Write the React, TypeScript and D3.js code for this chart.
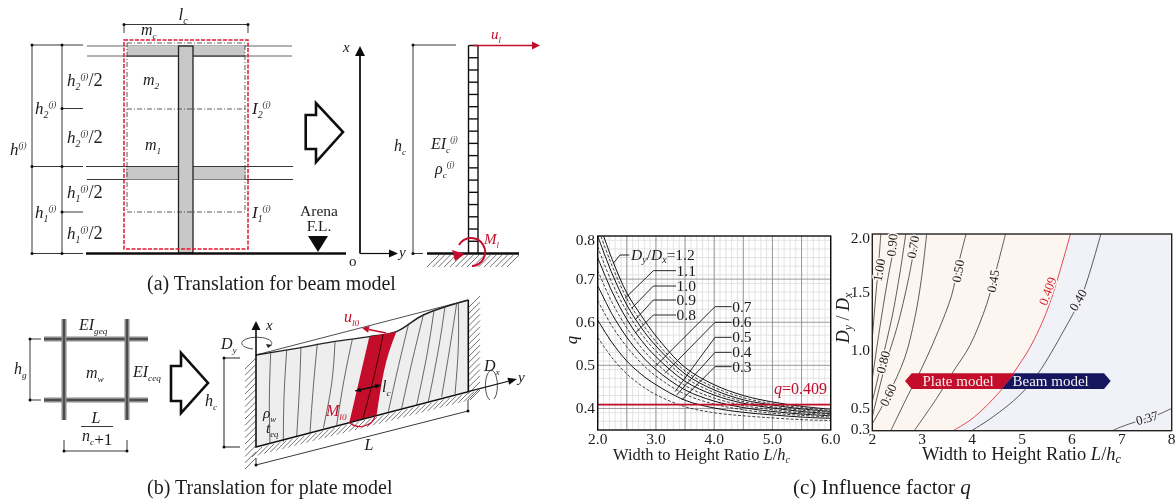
import React from "react";
import * as d3 from "d3";

type Pt = [number, number];

const SERIF = "'Liberation Serif', 'Times New Roman', serif";
const RED = "#c30d29";
const NAVY = "#14195f";
const INK = "#1c1c1c";

// ---- chart (c) left : q against L/hc
const ratioTicks = [2, 2.25, 2.5, 2.75, 3, 3.5, 4, 4.5, 5, 5.5, 6];
const stiffnessLabels = ["1.2", "1.1", "1.0", "0.9", "0.8", "0.7", "0.6", "0.5", "0.4", "0.3"];
const q12 = [0.84, 0.745, 0.668, 0.615, 0.568, 0.495, 0.455, 0.43, 0.415, 0.405, 0.398];
const q11 = [0.82, 0.73, 0.655, 0.6, 0.555, 0.487, 0.449, 0.425, 0.411, 0.402, 0.395];
const q10 = [0.8, 0.712, 0.64, 0.587, 0.545, 0.48, 0.443, 0.42, 0.408, 0.399, 0.393];
const q09 = [0.775, 0.69, 0.625, 0.573, 0.533, 0.472, 0.437, 0.416, 0.404, 0.396, 0.391];
const q08 = [0.75, 0.67, 0.607, 0.558, 0.52, 0.463, 0.431, 0.412, 0.401, 0.393, 0.388];
const q07 = [0.72, 0.645, 0.587, 0.541, 0.505, 0.453, 0.424, 0.407, 0.397, 0.39, 0.386];
const q06 = [0.685, 0.618, 0.565, 0.523, 0.49, 0.443, 0.417, 0.402, 0.393, 0.387, 0.383];
const q05 = [0.65, 0.59, 0.543, 0.505, 0.475, 0.433, 0.41, 0.397, 0.389, 0.384, 0.38];
const q04 = [0.605, 0.552, 0.51, 0.479, 0.455, 0.419, 0.401, 0.391, 0.385, 0.38, 0.377];
const q03 = [0.565, 0.517, 0.48, 0.453, 0.432, 0.404, 0.39, 0.383, 0.378, 0.374, 0.372];
const qSeries = [q12, q11, q10, q09, q08, q07, q06, q05, q04, q03];
const qLimit = 0.409;

const leaders: Pt[][] = [
  [[160, 115], [180, 90], [208, 90]],
  [[195, 220], [280, 137], [348, 137]],
  [[215, 250], [280, 183], [348, 183]],
  [[225, 285], [280, 225], [348, 225]],
  [[225, 325], [280, 270], [348, 270]],
  [[285, 425], [465, 245], [515, 245]],
  [[315, 445], [465, 292], [515, 292]],
  [[345, 500], [465, 337], [515, 337]],
  [[350, 510], [465, 382], [515, 382]],
  [[365, 525], [465, 425], [515, 425]],
];

// ---- chart (c) right : contours of q
const contourNames = ["1.00", "0.90", "0.80", "0.70", "0.60", "0.50", "0.45", "0.409", "0.40", "0.37"];
const c100: Pt[] = [[2, 1.1], [2.07, 1.47], [2.13, 1.76], [2.17, 2]];
const c090: Pt[] = [[2, 0.75], [2.15, 1.19], [2.29, 1.56], [2.39, 1.79], [2.49, 2]];
const c080: Pt[] = [[2, 0.55], [2.19, 0.9], [2.39, 1.27], [2.56, 1.68], [2.67, 2]];
const c070: Pt[] = [[2, 0.42], [2.25, 0.85], [2.5, 1.2], [2.72, 1.6], [2.89, 2]];
const c060: Pt[] = [[2, 0.36], [2.32, 0.61], [2.65, 0.93], [2.85, 1.27], [2.98, 1.6], [3.09, 2]];
const c050: Pt[] = [[2.37, 0.3], [2.72, 0.61], [2.99, 0.84], [3.32, 1.16], [3.59, 1.47], [3.72, 1.73], [3.88, 2]];
const c045: Pt[] = [[2.84, 0.3], [3.29, 0.58], [3.62, 0.81], [3.96, 1.04], [4.29, 1.39], [4.46, 1.65], [4.67, 2]];
const c0409: Pt[] = [[3.62, 0.3], [4.02, 0.41], [4.56, 0.64], [4.83, 0.8], [5.16, 1.02], [5.53, 1.37], [5.97, 2]];
const c040: Pt[] = [[3.99, 0.3], [4.42, 0.42], [4.96, 0.61], [5.33, 0.8], [5.83, 1.16], [6.2, 1.47], [6.58, 2]];
const c037: Pt[] = [[6.81, 0.3], [7, 0.335], [7.3, 0.38], [7.73, 0.44], [8, 0.493]];
const contours = [c100, c090, c080, c070, c060, c050, c045, c0409, c040, c037];
// label position and rotation for each contour
const contourLabelAt: [number, number, number][] = [
  [879, 270, -80], [892, 245, -85], [883, 362, -75], [913, 247, -80], [888, 395, -65],
  [958, 271, -80], [993, 281, -80], [1047.5, 291, -70], [1078, 300, -60], [1147, 418, -15],
];

const plateTop: Pt[] = [[108, 165], [230, 145], [340, 125], [448, 110], [529, 95], [610, 45], [745, 0]];
const plateFibres: Pt[][] = [
  [[150, 430], [148, 300], [152, 160]],
  [[190, 425], [192, 290], [200, 150]],
  [[230, 410], [238, 270], [243, 140]],
  [[270, 398], [280, 260], [292, 130]],
  [[310, 385], [335, 250], [345, 125]],
  [[350, 375], [372, 240], [397, 118]],
  [[505, 335], [535, 200], [565, 75]],
  [[545, 325], [575, 190], [610, 45]],
  [[590, 315], [620, 170], [642, 32]],
  [[625, 305], [655, 150], [675, 20]],
  [[665, 290], [690, 140], [710, 10]],
  [[705, 283], [715, 140], [715, 8]],
];
const bandLeft: Pt[] = [[448, 110], [420, 230], [388, 367]];
const bandMid: Pt[] = [[490, 102], [462, 230], [428, 358]];
const bandRight: Pt[] = [[470, 345], [495, 200], [529, 95]];

const poly = d3.line();
const bend = d3.line().curve(d3.curveNatural);
const smooth = d3.line().curve(d3.curveCatmullRom.alpha(0.5));
const crop = (ox: number, oy: number) => (p: Pt): Pt => [ox + p[0] / 3, oy + p[1] / 3];
const fromChart = crop(560, 225);
const fromPlate = crop(220, 300);

// x, y scales of both charts
const qx = d3.scaleLinear().domain([2, 6]).range([597.7, 830.7]);
const qy = d3.scaleLinear().domain([0.35, 0.8]).range([430, 236]);
const cx = d3.scaleLinear().domain([2, 8]).range([872.3, 1171.7]);
const cy = d3.scaleLinear().domain([0.3, 2]).range([430.7, 234]);

const Arrow = ({ from, to, color = "#111", w = 1.5, size = 9, half = 3.5 }: any) => {
  const a = Math.atan2(to[1] - from[1], to[0] - from[0]);
  const base: Pt = [to[0] - size * Math.cos(a), to[1] - size * Math.sin(a)];
  const nx = -Math.sin(a) * half;
  const ny = Math.cos(a) * half;
  return (
    <g>
      <line x1={from[0]} y1={from[1]} x2={base[0]} y2={base[1]} stroke={color} strokeWidth={w} />
      <polygon points={`${to[0]},${to[1]} ${base[0] + nx},${base[1] + ny} ${base[0] - nx},${base[1] - ny}`} fill={color} />
    </g>
  );
};

const Dot = ({ x, y }: any) => <circle cx={x} cy={y} r={1.5} fill="#111" />;

// symbol with subscript and superscript
const Sym = ({ x, y, main, sub, sup, tail, size = 16, fill = INK, anchor = "start" }: any) => (
  <text x={x} y={y} fontFamily={SERIF} fontSize={size} fill={fill} textAnchor={anchor}>
    <tspan fontStyle="italic">{main}</tspan>
    {sub && <tspan fontSize={size * 0.58} fontStyle="italic" dy={size * 0.25}>{sub}</tspan>}
    {sup && <tspan fontSize={size * 0.5} fontStyle="italic" dy={sub ? -size * 0.68 : -size * 0.4}>{sup}</tspan>}
    {tail && <tspan fontSize={size * 1.08} dy={sup ? size * 0.43 : 0}>{tail}</tspan>}
  </text>
);

const Hatch = ({ a, b, n, dx, dy, w = 0.7 }: any) => (
  <g stroke="#333" strokeWidth={w}>
    {d3.range(n).map((i) => {
      const t = i / (n - 1);
      const x = a[0] + (b[0] - a[0]) * t;
      const y = a[1] + (b[1] - a[1]) * t;
      return <line key={i} x1={x} y1={y} x2={x + dx} y2={y + dy} />;
    })}
  </g>
);

const BigArrow = ({ pts }: { pts: Pt[] }) => (
  <path d={poly(pts) + "Z"} fill="#fff" stroke="#111" strokeWidth={2.6} strokeLinejoin="miter" />
);

function BeamSketch() {
  const storeyMarks = [45, 166.5, 253.5];
  return (
    <g>
      {/* dimension lines */}
      <g stroke="#222" strokeWidth={0.9}>
        <line x1={32} y1={45} x2={32} y2={253.5} />
        <line x1={62} y1={45} x2={62} y2={253.5} />
        {storeyMarks.map((y) => <line key={y} x1={32} y1={y} x2={83} y2={y} />)}
        <line x1={62} y1={108.5} x2={83} y2={108.5} />
        <line x1={62} y1={212} x2={83} y2={212} />
        <line x1={87} y1={46} x2={292} y2={46} stroke="#555" />
        <line x1={87} y1={56} x2={292} y2={56} stroke="#555" />
        <line x1={86} y1={166.5} x2={293} y2={166.5} />
        <line x1={87} y1={179.5} x2={293} y2={179.5} />
        <line x1={124} y1={24.5} x2={248} y2={24.5} />
        <line x1={124} y1={24.5} x2={124} y2={33} />
        <line x1={248} y1={24.5} x2={248} y2={33} />
      </g>
      {storeyMarks.map((y) => <g key={y}><Dot x={32} y={y} /><Dot x={62} y={y} /></g>)}
      <Dot x={62} y={108.5} /><Dot x={62} y={212} /><Dot x={124} y={24.5} /><Dot x={248} y={24.5} />
      {/* slabs and column */}
      <rect x={127} y={46} width={118} height={10} fill="#c8c8c8" />
      <rect x={126} y={167} width={120} height={12.5} fill="#c8c8c8" />
      <line x1={127} y1={56} x2={245} y2={56} stroke="#111" strokeWidth={1.2} />
      <rect x={178.5} y={46} width={14.5} height={207} fill="#c8c8c8" stroke="#222" strokeWidth={1.3} />
      <path d="M127 43H245V212H127Z" fill="none" stroke="#333" strokeWidth={0.8} strokeDasharray="5 2 1 2" />
      <line x1={127} y1={109} x2={245} y2={109} stroke="#333" strokeWidth={0.8} strokeDasharray="5 2 1 2" />
      <rect x={124} y={40} width={124} height={209} fill="none" stroke="#e3162f" strokeWidth={1.5} strokeDasharray="4 1.5" />
      <line x1={86} y1={253.5} x2={346} y2={253.5} stroke="#111" strokeWidth={2.6} />
      <polygon points="308,236 328,236 318,252" fill="#111" />
      <text x={319} y={216} fontFamily={SERIF} fontSize={15.5} textAnchor="middle" fill={INK}>Arena</text>
      <text x={319} y={231} fontFamily={SERIF} fontSize={15.5} textAnchor="middle" fill={INK}>F.L.</text>

      <Sym x={183} y={20} main="l" sub="c" size={17} anchor="middle" />
      <Sym x={141} y={35} main="m" sub="c" size={16} />
      <Sym x={143} y={85} main="m" sub="2" size={16} />
      <Sym x={145} y={150} main="m" sub="1" size={16} />
      <Sym x={252} y={114} main="I" sub="2" sup="(j)" size={17} />
      <Sym x={252} y={218} main="I" sub="1" sup="(j)" size={17} />
      <Sym x={67} y={86} main="h" sub="2" sup="(j)" tail="/2" size={17} />
      <Sym x={67} y={143} main="h" sub="2" sup="(j)" tail="/2" size={17} />
      <Sym x={67} y={198} main="h" sub="1" sup="(j)" tail="/2" size={17} />
      <Sym x={67} y={239} main="h" sub="1" sup="(j)" tail="/2" size={17} />
      <Sym x={35} y={114} main="h" sub="2" sup="(j)" size={17} />
      <Sym x={35} y={218} main="h" sub="1" sup="(j)" size={17} />
      <Sym x={10} y={155} main="h" sup="(j)" size={17} />

      <BigArrow pts={[[305.7, 115], [316, 115], [316, 103], [343, 132], [316, 162], [316, 149], [305.7, 149]]} />

      {/* beam model */}
      <Arrow from={[360, 253.5]} to={[360, 46]} w={1.8} size={10} half={5} />
      <Arrow from={[360, 253.5]} to={[398, 253.5]} w={1.2} size={9} half={4} />
      <text x={343} y={52} fontFamily={SERIF} fontStyle="italic" fontSize={15} fill={INK}>x</text>
      <text x={399} y={257} fontFamily={SERIF} fontStyle="italic" fontSize={15} fill={INK}>y</text>
      <text x={349} y={266} fontFamily={SERIF} fontSize={15} fill={INK}>o</text>
      <g stroke="#222" strokeWidth={0.9}>
        <line x1={413} y1={45} x2={413} y2={253.5} />
        <line x1={412} y1={45} x2={456} y2={45} />
        <line x1={412} y1={253.5} x2={423} y2={253.5} />
      </g>
      <Dot x={413} y={45} /><Dot x={413} y={253.5} />
      <Sym x={394} y={151} main="h" sub="c" size={16} />
      <Sym x={431} y={149} main="EI" sub="c" sup="(j)" size={16} />
      <Sym x={435} y={174} main="ρ" sub="c" sup="(j)" size={16} />
      <g stroke="#111" strokeWidth={1.4}>
        <line x1={468.5} y1={45.5} x2={468.5} y2={253.5} />
        <line x1={478} y1={45.5} x2={478} y2={253.5} />
        {d3.range(17).map((i) => <line key={i} x1={468.5} x2={478} y1={45.5 + (i * 208) / 17} y2={45.5 + (i * 208) / 17} />)}
      </g>
      <line x1={427} y1={253.5} x2={519} y2={253.5} stroke="#111" strokeWidth={2.6} />
      <Hatch a={[439, 255]} b={[519, 255]} n={15} dx={-12} dy={12} />
      <Arrow from={[473, 45.5]} to={[540, 45.5]} color={RED} w={1.5} size={8} half={4} />
      <Sym x={491} y={39} main="u" sub="l" size={15} fill={RED} />
      <path d="M472 266 A14 14 0 1 0 459 245" fill="none" stroke={RED} strokeWidth={2} />
      <polygon points="452,250 465,254 455,261" fill={RED} />
      <Sym x={484} y={244} main="M" sub="l" size={15} fill={RED} />
    </g>
  );
}

function PlateSketch() {
  const top = plateTop.map(fromPlate);
  const outline: Pt[] = [[256, 447], [468.3, 391.7], ...top.slice().reverse()];
  const band = bend(bandLeft.map(fromPlate))! + "L" + bend(bandRight.map(fromPlate))!.slice(1) + "Z";
  const gridY = [339, 400];
  const gridX = [64, 127];
  return (
    <g>
      {/* wall-frame cell */}
      {gridY.map((y) => (
        <g key={y}>
          <line x1={44} x2={148} y1={y} y2={y} stroke="#8a8a8a" strokeWidth={5} />
          <line x1={44} x2={148} y1={y} y2={y} stroke="#111" strokeWidth={1} />
        </g>
      ))}
      {gridX.map((x) => (
        <g key={x}>
          <line x1={x} x2={x} y1={319} y2={420} stroke="#8a8a8a" strokeWidth={5} />
          <line x1={x} x2={x} y1={319} y2={420} stroke="#111" strokeWidth={1} />
        </g>
      ))}
      <Sym x={79} y={330} main="EI" sub="geq" size={16} />
      <Sym x={86} y={378} main="m" sub="w" size={16} />
      <Sym x={133} y={377} main="EI" sub="ceq" size={16} />
      <Sym x={14} y={374} main="h" sub="g" size={16} />
      <g stroke="#222" strokeWidth={0.9}>
        <line x1={30} y1={339} x2={30} y2={400} />
        <line x1={30} y1={339} x2={41} y2={339} />
        <line x1={30} y1={400} x2={41} y2={400} />
        <line x1={81} y1={426.5} x2={113} y2={426.5} />
        <line x1={64} y1={451} x2={127} y2={451} />
        <line x1={64} y1={440} x2={64} y2={451} />
        <line x1={127} y1={440} x2={127} y2={451} />
      </g>
      <Dot x={30} y={339} /><Dot x={30} y={400} /><Dot x={64} y={451} /><Dot x={127} y={451} />
      <Sym x={96} y={423} main="L" size={16} anchor="middle" />
      <Sym x={82} y={441} main="n" sub="c" tail="+1" size={16} />

      <BigArrow pts={[[171, 366], [181, 366], [181, 353], [208, 383], [181, 413], [181, 401], [171, 401]]} />

      <g stroke="#222" strokeWidth={1}>
        <line x1={224} y1={358} x2={224} y2={447} />
        <line x1={224} y1={358} x2={240} y2={358} />
        <line x1={224} y1={447} x2={240} y2={447} />
      </g>
      <Dot x={224} y={358} /><Dot x={224} y={447} />
      <Sym x={205} y={406} main="h" sub="c" size={16} />

      {/* plate */}
      <Hatch a={[256, 358]} b={[256, 458]} n={17} dx={-11} dy={11} />
      <Hatch a={[480, 296]} b={[480, 388]} n={16} dx={-12} dy={12} />
      <Hatch a={[262, 447]} b={[480, 390]} n={37} dx={-10} dy={10} />
      <path d={poly(outline) + "Z"} fill="#eeeeee" />
      <line x1={256} y1={355} x2={468.3} y2={300} stroke="#222" strokeWidth={0.8} />
      <path d={smooth(top)!} fill="none" stroke="#222" strokeWidth={1.4} />
      <path d={band} fill={RED} />
      {plateFibres.map((f, i) => (
        <path key={i} d={bend(f.map(fromPlate))!} fill="none" stroke="#444" strokeWidth={0.8} />
      ))}
      <path d={bend(bandMid.map(fromPlate))!} fill="none" stroke="#300" strokeWidth={0.9} />
      <path d={poly([[256, 355], [256, 447], [468.3, 391.7], [468.3, 300]])!} fill="none" stroke="#111" strokeWidth={1.6} />
      <Arrow from={[256, 355]} to={[256, 321]} w={1.6} size={9} half={4.5} />
      <Arrow from={[468, 391.7]} to={[517, 379]} w={1.2} size={9} half={3.5} />
      <text x={266} y={330} fontFamily={SERIF} fontStyle="italic" fontSize={15} fill={INK}>x</text>
      <text x={518} y={382} fontFamily={SERIF} fontStyle="italic" fontSize={15} fill={INK}>y</text>

      <Sym x={221} y={349} main="D" sub="y" size={16} />
      <Sym x={484} y={371} main="D" sub="x" size={16} />
      <path d="M253 349 A15 6 0 1 1 270 346" fill="none" stroke="#222" strokeWidth={0.8} />
      <polygon points="272,345 266,344 268,348" fill="#222" />
      <path d="M490 400 A6 15 0 1 1 494 399" fill="none" stroke="#222" strokeWidth={0.8} />

      <Arrow from={[386, 333]} to={[362, 328]} color={RED} w={1.6} size={7} half={3.5} />
      <Sym x={344} y={322} main="u" sub="l0" size={16} fill={RED} />
      <Arrow from={[355, 391]} to={[381, 385]} w={1.1} size={6} half={2.5} />
      <Arrow from={[381, 385]} to={[355, 391]} w={1.1} size={6} half={2.5} />
      <Sym x={382} y={392} main="l" sub="c" size={16} />
      <Sym x={326} y={416} main="M" sub="l0" size={16} fill={RED} />
      <path d="M349 422 A15 13 0 0 0 375 416" fill="none" stroke={RED} strokeWidth={1.2} />
      <Sym x={263} y={418} main="ρ" sub="w" size={15} />
      <Sym x={266} y={433} main="t" sub="eq" size={15} />
      <Sym x={369} y={450} main="L" size={16} anchor="middle" />
      <g stroke="#222" strokeWidth={0.9}>
        <line x1={256} y1={465} x2={468} y2={411} />
        <line x1={256} y1={458} x2={256} y2={465} />
        <line x1={468} y1={400} x2={468} y2={411} />
      </g>
      <Dot x={256} y={465} /><Dot x={468} y={411} />
    </g>
  );
}

function QChart() {
  const line = d3.line<number>()
    .x((_, i) => qx(ratioTicks[i]))
    .y((d) => qy(d))
    .curve(d3.curveCatmullRom.alpha(0.5));
  const minorX = d3.range(2, 6.001, 0.1);
  const minorY = d3.range(0.35, 0.8001, 0.02);
  const majorX = d3.range(2, 6.001, 0.5);
  const majorY = [0.4, 0.5, 0.6, 0.7];
  const [l, r] = qx.range();
  const [b, t] = qy.range();
  return (
    <g>
      <defs>
        <clipPath id="qclip"><rect x={l} y={t} width={r - l} height={b - t} /></clipPath>
      </defs>
      <rect x={l} y={t} width={r - l} height={b - t} fill="#fff" />
      <g stroke="#dcdcdc" strokeWidth={0.8}>
        {minorX.map((v) => <line key={v} x1={qx(v)} x2={qx(v)} y1={t} y2={b} />)}
        {minorY.map((v) => <line key={v} x1={l} x2={r} y1={qy(v)} y2={qy(v)} />)}
      </g>
      <g stroke="#909090" strokeWidth={0.9}>
        {majorX.map((v) => <line key={v} x1={qx(v)} x2={qx(v)} y1={t} y2={b} />)}
        {majorY.map((v) => <line key={v} x1={l} x2={r} y1={qy(v)} y2={qy(v)} />)}
      </g>
      <g clipPath="url(#qclip)" fill="none" stroke="#111">
        {qSeries.map((s, i) => (
          <path key={stiffnessLabels[i]} d={line(s)!} strokeWidth={i % 2 ? 0.8 : 1} strokeDasharray={i % 2 ? "3 1.8" : undefined} />
        ))}
      </g>
      {leaders.map((p, i) => (
        <path key={i} d={poly(p.map(fromChart))!} fill="none" stroke="#111" strokeWidth={0.9} />
      ))}
      <line x1={l} x2={r} y1={qy(qLimit)} y2={qy(qLimit)} stroke={RED} strokeWidth={1.8} />
      <rect x={l} y={t} width={r - l} height={b - t} fill="none" stroke="#111" strokeWidth={1.4} />
      <g fontFamily={SERIF} fontSize={15.5} fill={INK}>
        {[0.4, 0.5, 0.6, 0.7, 0.8].map((v) => (
          <text key={v} x={595} y={v === 0.8 ? 245 : qy(v) + 5} textAnchor="end">{v.toFixed(1)}</text>
        ))}
        {[2, 3, 4, 5, 6].map((v) => (
          <text key={v} x={qx(v)} y={444} textAnchor="middle">{v.toFixed(1)}</text>
        ))}
        <text x={613} y={460} fontSize={16.5}>
          Width to Height Ratio <tspan fontStyle="italic">L</tspan>/<tspan fontStyle="italic">h</tspan>
          <tspan fontSize={10} dy={3} fontStyle="italic">c</tspan>
        </text>
        <text transform="translate(577,340) rotate(-90)" fontStyle="italic" fontSize={17} textAnchor="middle">q</text>
        <text x={631} y={260}>
          <tspan fontStyle="italic">D</tspan><tspan fontSize={10} dy={3} fontStyle="italic">y</tspan>
          <tspan dy={-3}>/</tspan><tspan fontStyle="italic">D</tspan><tspan fontSize={10} dy={3} fontStyle="italic">x</tspan>
          <tspan dy={-3}>=1.2</tspan>
        </text>
        {stiffnessLabels.slice(1).map((s, i) => {
          const p = fromChart(leaders[i + 1][2]);
          return <text key={s} x={p[0] + 0.5} y={p[1] + 5}>{s}</text>;
        })}
        <text x={774} y={394} fontSize={16} fill={RED}><tspan fontStyle="italic">q</tspan>=0.409</text>
      </g>
    </g>
  );
}

function ContourChart() {
  const line = d3.line<Pt>().x((d) => cx(d[0])).y((d) => cy(d[1])).curve(d3.curveCatmullRom.alpha(0.5));
  const plateSide = d3.area<Pt>()
    .y((d) => cy(d[1]))
    .x0(cx(2))
    .x1((d) => cx(d[0]))
    .curve(d3.curveCatmullRom.alpha(0.5));
  const [l, r] = cx.range();
  const [b, t] = cy.range();
  const splitTop = 1015;
  const splitBottom = 1001.7;
  return (
    <g>
      <rect x={l} y={t} width={r - l} height={b - t} fill="#f1f1f8" />
      <path d={plateSide(c0409)!} fill="#fdf6f0" />
      {contours.map((c, i) => (
        <path key={contourNames[i]} d={line(c)!} fill="none" stroke={contourNames[i] === "0.409" ? "#d8202f" : "#333"} strokeWidth={0.8} />
      ))}
      <rect x={l} y={t} width={r - l} height={b - t} fill="none" stroke="#222" strokeWidth={1.4} />
      <g fontFamily={SERIF} fontSize={13} textAnchor="middle" dominantBaseline="central" paintOrder="stroke" strokeWidth={3}>
        {contourNames.map((n, i) => {
          const [x, y, a] = contourLabelAt[i];
          const isLimit = n === "0.409";
          const onBeamSide = n === "0.40" || n === "0.37";
          return (
            <text key={n} transform={`translate(${x},${y}) rotate(${a})`} fill={isLimit ? "#d8202f" : INK}
              stroke={onBeamSide ? "#f1f1f8" : "#fdf6f0"}>{n}</text>
          );
        })}
      </g>
      <polygon points={`905,381 911.7,373.3 ${splitTop},373.3 ${splitBottom},389 911.7,389`} fill={RED} />
      <polygon points={`${splitTop},373.3 1104,373.3 1110.7,381 1104,389 ${splitBottom},389`} fill={NAVY} />
      <g fontFamily={SERIF} fontSize={15} fill="#f4f0f0">
        <text x={922.5} y={386}>Plate model</text>
        <text x={1012.5} y={386}>Beam model</text>
      </g>
      <g fontFamily={SERIF} fontSize={15.5} fill={INK}>
        {[2, 3, 4, 5, 6, 7, 8].map((v) => <text key={v} x={cx(v)} y={444} textAnchor="middle">{v}</text>)}
        {[2, 1.5, 1, 0.5, 0.3].map((v) => (
          <text key={v} x={870} y={cy(v) + (v === 2 ? 9 : v === 0.3 ? 3 : 5)} textAnchor="end">{v.toFixed(1)}</text>
        ))}
      </g>
      <text x={922} y={460} fontFamily={SERIF} fontSize={18.5} fill={INK}>
        Width to Height Ratio <tspan fontStyle="italic">L</tspan>/<tspan fontStyle="italic">h</tspan>
        <tspan fontSize={12} dy={3} fontStyle="italic">c</tspan>
      </text>
      <text transform="translate(849,318) rotate(-90)" fontFamily={SERIF} fontSize={18} fill={INK} textAnchor="middle">
        <tspan fontStyle="italic">D</tspan><tspan fontSize={12} dy={3} fontStyle="italic">y</tspan>
        <tspan dy={-3}> / </tspan><tspan fontStyle="italic">D</tspan><tspan fontSize={12} dy={3} fontStyle="italic">x</tspan>
      </text>
    </g>
  );
}

export default function App() {
  return (
    <svg width={1176} height={500} viewBox="0 0 1176 500" style={{ position: "absolute", left: 0, top: 0, background: "#fff" }}>
      <defs>
        <filter id="soft" x="0" y="0" width="100%" height="100%" filterUnits="objectBoundingBox">
          <feGaussianBlur stdDeviation={0.35} />
        </filter>
      </defs>
      <g filter="url(#soft)">
        <rect width={1176} height={500} fill="#fff" />
        <BeamSketch />
        <PlateSketch />
        <QChart />
        <ContourChart />
        <g fontFamily={SERIF} fill={INK}>
          <text x={147} y={290} fontSize={20}>(a) Translation for beam model</text>
          <text x={147} y={494} fontSize={20}>(b) Translation for plate model</text>
          <text x={793} y={494} fontSize={21}>(c) Influence factor <tspan fontStyle="italic">q</tspan></text>
        </g>
      </g>
    </svg>
  );
}
